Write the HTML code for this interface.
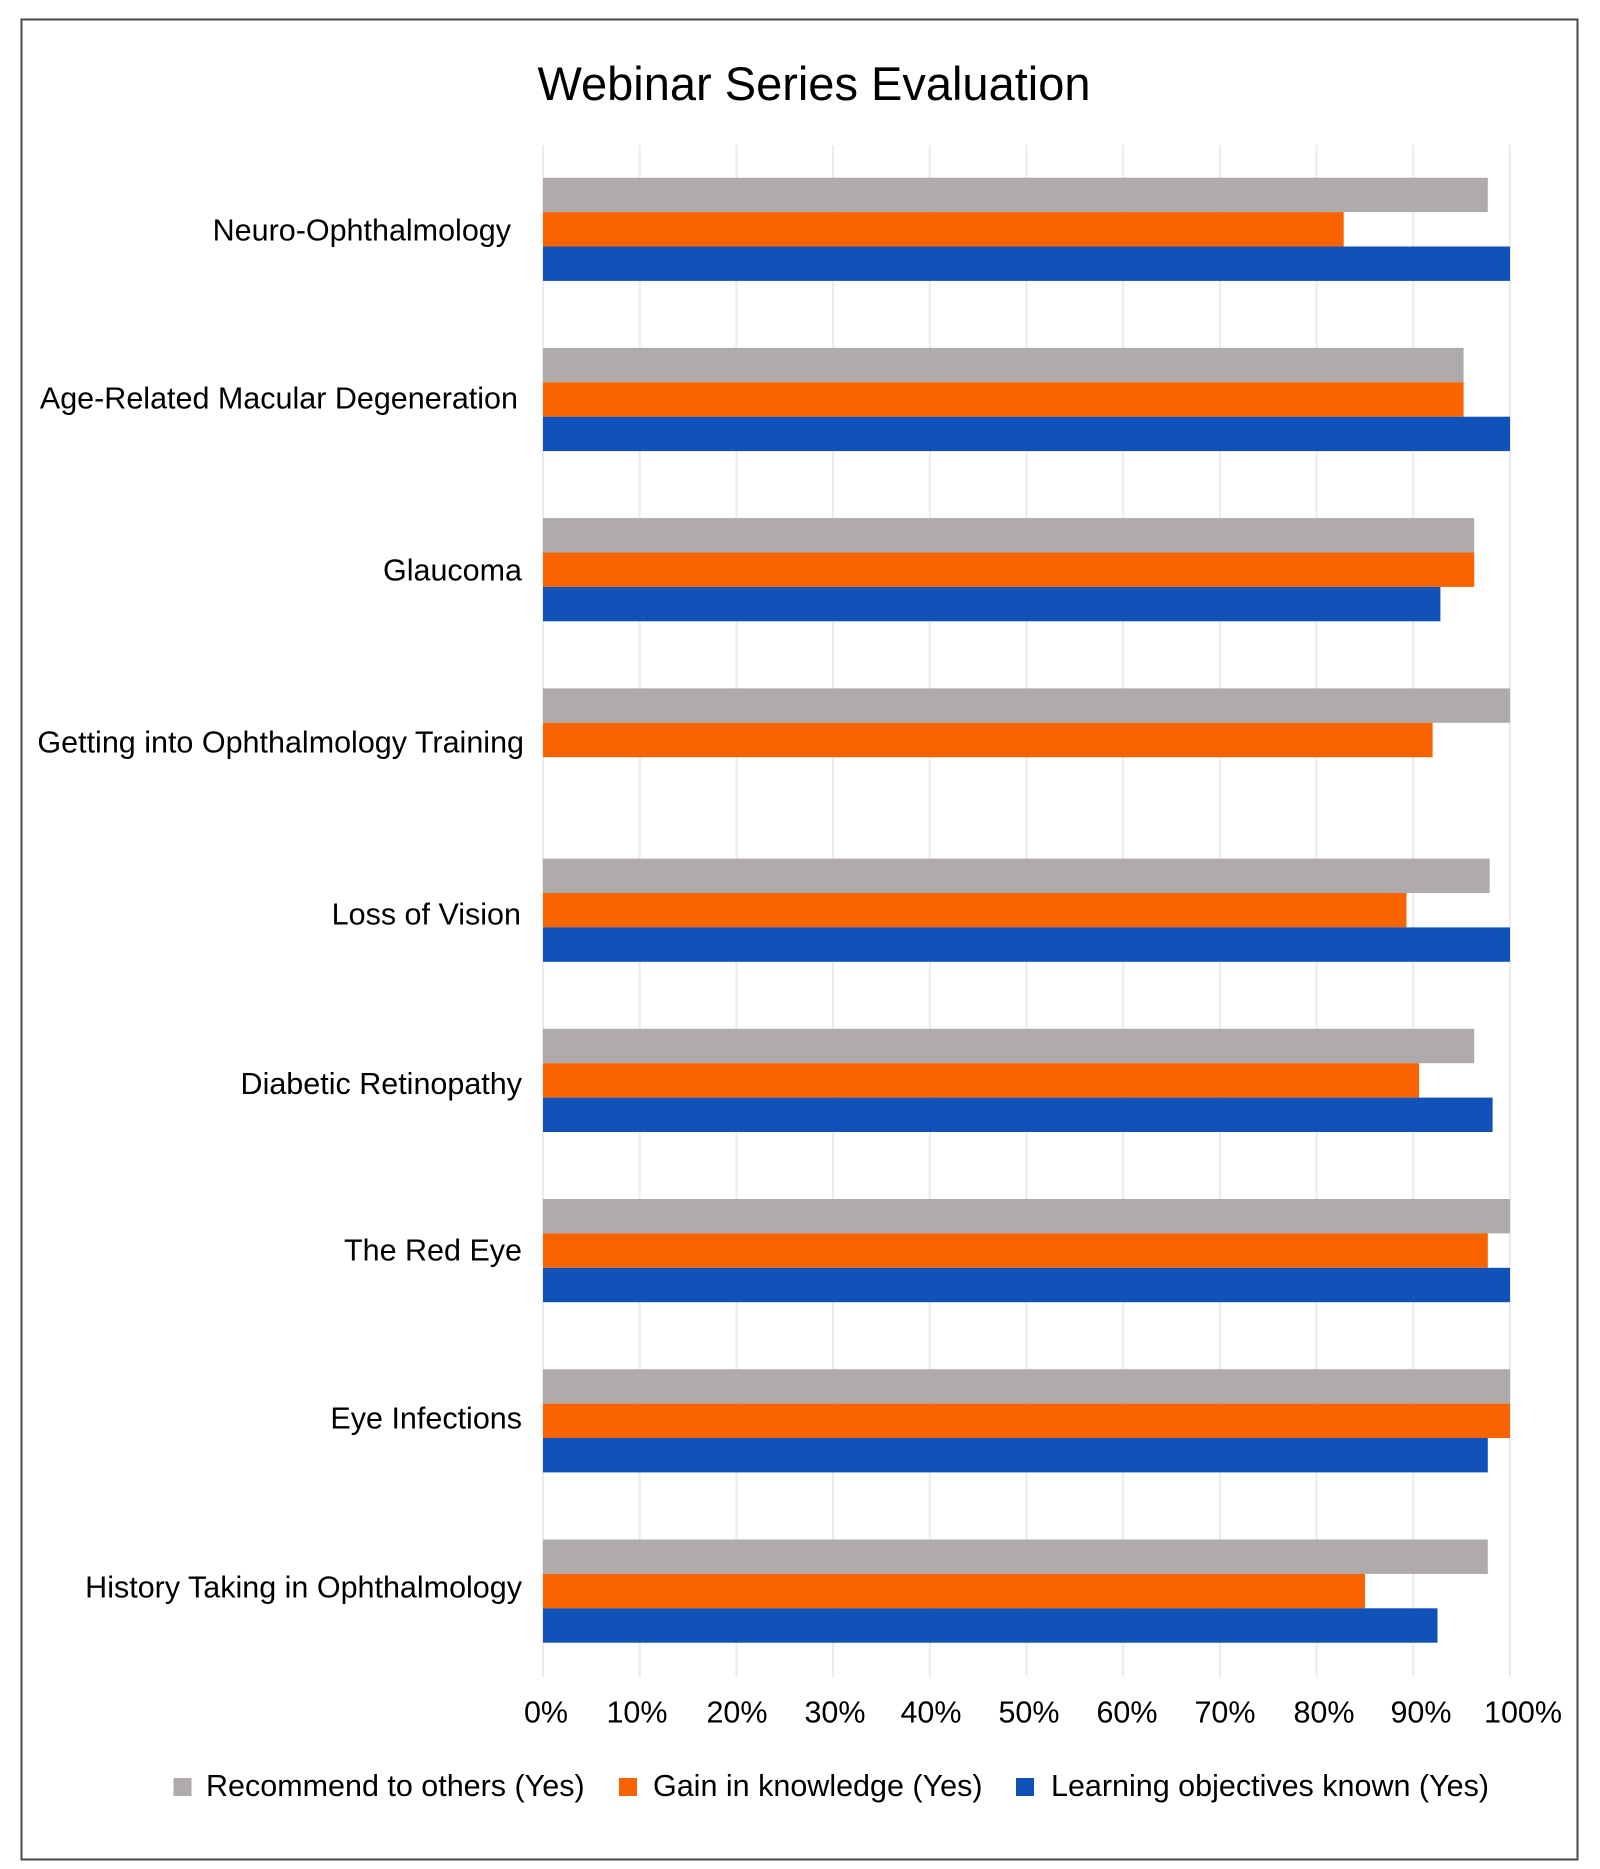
<!DOCTYPE html>
<html>
<head>
<meta charset="utf-8">
<style>
  html, body { margin:0; padding:0; background:#ffffff; }
  svg { display:block; }
  text { font-family: "Liberation Sans", Arial, sans-serif; fill:#000; }
</style>
</head>
<body>
<svg width="1600" height="1869" viewBox="0 0 1600 1869" xmlns="http://www.w3.org/2000/svg">
  <rect x="0" y="0" width="1600" height="1869" fill="#ffffff"/>
  <!-- outer border -->
  <rect x="21.5" y="19.5" width="1556" height="1840" fill="none" stroke="#4a4a4a" stroke-width="2"/>

  <!-- title -->
  <text x="814" y="100" font-size="47" text-anchor="middle">Webinar Series Evaluation</text>

  <!-- gridlines -->
  <g stroke="#ebebeb" stroke-width="2">
    <line x1="543" y1="145" x2="543" y2="1677"/>
    <line x1="639.7" y1="145" x2="639.7" y2="1677"/>
    <line x1="736.4" y1="145" x2="736.4" y2="1677"/>
    <line x1="833.1" y1="145" x2="833.1" y2="1677"/>
    <line x1="929.8" y1="145" x2="929.8" y2="1677"/>
    <line x1="1026.5" y1="145" x2="1026.5" y2="1677"/>
    <line x1="1123.2" y1="145" x2="1123.2" y2="1677"/>
    <line x1="1219.9" y1="145" x2="1219.9" y2="1677"/>
    <line x1="1316.6" y1="145" x2="1316.6" y2="1677"/>
    <line x1="1413.3" y1="145" x2="1413.3" y2="1677"/>
    <line x1="1510" y1="145" x2="1510" y2="1677"/>
  </g>

  <g>
    <!-- 1 Neuro-Ophthalmology -->
    <rect x="543" y="177.7" width="944.8" height="34.4" fill="#afabaa"/>
    <rect x="543" y="212.1" width="800.7" height="34.4" fill="#fa6400"/>
    <rect x="543" y="246.5" width="967" height="34.4" fill="#1152b8"/>
    <!-- 2 AMD -->
    <rect x="543" y="347.9" width="920.6" height="34.4" fill="#afabaa"/>
    <rect x="543" y="382.3" width="920.6" height="34.4" fill="#fa6400"/>
    <rect x="543" y="416.7" width="967" height="34.4" fill="#1152b8"/>
    <!-- 3 Glaucoma -->
    <rect x="543" y="518.1" width="931.2" height="34.4" fill="#afabaa"/>
    <rect x="543" y="552.5" width="931.2" height="34.4" fill="#fa6400"/>
    <rect x="543" y="586.9" width="897.4" height="34.4" fill="#1152b8"/>
    <!-- 4 Getting into Ophthalmology Training -->
    <rect x="543" y="688.4" width="967" height="34.4" fill="#afabaa"/>
    <rect x="543" y="722.8" width="889.6" height="34.4" fill="#fa6400"/>
    <!-- 5 Loss of Vision -->
    <rect x="543" y="858.6" width="946.7" height="34.4" fill="#afabaa"/>
    <rect x="543" y="893.0" width="863.5" height="34.4" fill="#fa6400"/>
    <rect x="543" y="927.4" width="967" height="34.4" fill="#1152b8"/>
    <!-- 6 Diabetic Retinopathy -->
    <rect x="543" y="1028.8" width="931.2" height="34.4" fill="#afabaa"/>
    <rect x="543" y="1063.2" width="876.1" height="34.4" fill="#fa6400"/>
    <rect x="543" y="1097.6" width="949.6" height="34.4" fill="#1152b8"/>
    <!-- 7 The Red Eye -->
    <rect x="543" y="1199.0" width="967" height="34.4" fill="#afabaa"/>
    <rect x="543" y="1233.4" width="944.8" height="34.4" fill="#fa6400"/>
    <rect x="543" y="1267.8" width="967" height="34.4" fill="#1152b8"/>
    <!-- 8 Eye Infections -->
    <rect x="543" y="1369.2" width="967" height="34.4" fill="#afabaa"/>
    <rect x="543" y="1403.6" width="967" height="34.4" fill="#fa6400"/>
    <rect x="543" y="1438.0" width="944.8" height="34.4" fill="#1152b8"/>
    <!-- 9 History Taking -->
    <rect x="543" y="1539.5" width="944.8" height="34.4" fill="#afabaa"/>
    <rect x="543" y="1573.9" width="822" height="34.4" fill="#fa6400"/>
    <rect x="543" y="1608.3" width="894.5" height="34.4" fill="#1152b8"/>
  </g>

  <!-- category labels -->
  <g font-size="30.5" text-anchor="end">
    <text x="511" y="240.7">Neuro-Ophthalmology</text>
    <text x="518" y="408.5">Age-Related Macular Degeneration</text>
    <text x="522" y="580.5">Glaucoma</text>
    <text x="524" y="752.7">Getting into Ophthalmology Training</text>
    <text x="521" y="924.3">Loss of Vision</text>
    <text x="522" y="1094">Diabetic Retinopathy</text>
    <text x="522" y="1260.5">The Red Eye</text>
    <text x="522" y="1428.5">Eye Infections</text>
    <text x="522" y="1597.5">History Taking in Ophthalmology</text>
  </g>

  <!-- x tick labels -->
  <g font-size="30.5" text-anchor="middle">
    <text x="546" y="1722.5">0%</text>
    <text x="637" y="1722.5">10%</text>
    <text x="737" y="1722.5">20%</text>
    <text x="835" y="1722.5">30%</text>
    <text x="931" y="1722.5">40%</text>
    <text x="1029" y="1722.5">50%</text>
    <text x="1127" y="1722.5">60%</text>
    <text x="1225" y="1722.5">70%</text>
    <text x="1324" y="1722.5">80%</text>
    <text x="1421" y="1722.5">90%</text>
    <text x="1523" y="1722.5">100%</text>
  </g>

  <!-- legend -->
  <rect x="173.5" y="1778" width="18" height="18" fill="#afabaa"/>
  <text x="206" y="1796" font-size="30.5">Recommend to others (Yes)</text>
  <rect x="619" y="1778" width="18" height="18" fill="#fa6400"/>
  <text x="653" y="1796" font-size="30.5">Gain in knowledge (Yes)</text>
  <rect x="1016" y="1778" width="18" height="18" fill="#1152b8"/>
  <text x="1051" y="1796" font-size="30.5">Learning objectives known (Yes)</text>
</svg>
</body>
</html>
